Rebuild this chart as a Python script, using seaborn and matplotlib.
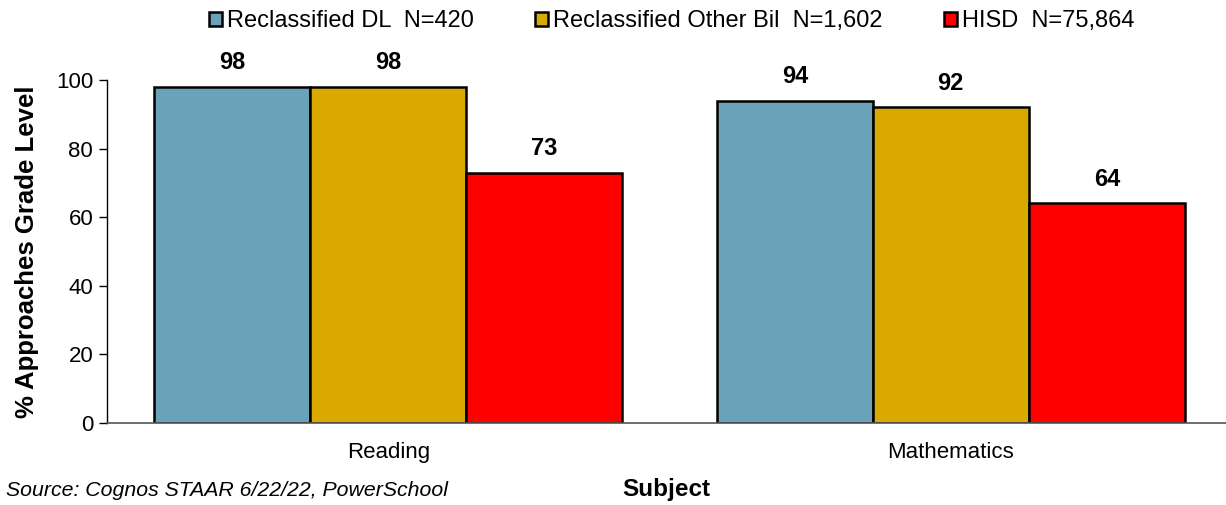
import matplotlib
matplotlib.use("Agg")
import matplotlib.pyplot as plt
import seaborn as sns
import pandas as pd

subjects = ["Reading", "Mathematics"]
groups = ["Reclassified DL  N=420", "Reclassified Other Bil  N=1,602", "HISD  N=75,864"]
values_dl = [98, 94]
values_other = [98, 92]
values_hisd = [73, 64]
colors = ["#6AA3B9", "#DAA900", "#FF0000"]

rows = []
for g, vals in zip(groups, [values_dl, values_other, values_hisd]):
    for s, v in zip(subjects, vals):
        rows.append({"Subject": s, "Group": g, "Value": v})
df = pd.DataFrame(rows)

sns.set_style("white")
plt.rcParams['font.family'] = ['Liberation Sans', 'DejaVu Sans']
plt.rcParams['text.color'] = 'black'
plt.rcParams['axes.labelcolor'] = 'black'
plt.rcParams['xtick.color'] = 'black'
plt.rcParams['ytick.color'] = 'black'

fig = plt.figure(figsize=(12.26, 5.05), dpi=100)
ax = fig.add_axes([0.0873, 0.1624, 0.9176, 0.6792])
sns.barplot(data=df, x="Subject", y="Value", hue="Group", order=subjects,
            hue_order=groups, palette=colors, width=0.832, gap=0, saturation=1,
            edgecolor="black", linewidth=1.8, ax=ax, legend=True)

for cont in ax.containers:
    ax.bar_label(cont, fmt="%d", padding=9, fontsize=17, fontweight="bold")

ax.set_xlim(-0.5, 1.5)
ax.set_ylim(0, 100)
ax.set_yticks([0, 20, 40, 60, 80, 100])
ax.tick_params(axis="y", labelsize=16, length=6, width=1, direction="out", left=True, pad=4)
ax.tick_params(axis="x", labelsize=16, length=0, pad=14)
for side in ["top", "right"]:
    ax.spines[side].set_visible(False)
ax.spines["left"].set_color("black")
ax.spines["left"].set_linewidth(1)
ax.spines["bottom"].set_color("#555555")
ax.spines["bottom"].set_linewidth(1.2)
ax.set_ylabel("% Approaches Grade Level", fontsize=18.5, fontweight="bold", labelpad=12)
ax.set_xlabel("Subject", fontsize=17.5, fontweight="bold")
ax.xaxis.set_label_coords((666 - 107) / 1125, -0.16)

handles, labels = ax.get_legend_handles_labels()
ax.legend(handles, labels, loc="center", bbox_to_anchor=(0.502, 1.172), ncol=3,
          frameon=False, fontsize=17, handlelength=0.55, handleheight=0.55,
          handletextpad=0.2, columnspacing=2.6)

fig.text(0.005, 0.028, "Source: Cognos STAAR 6/22/22, PowerSchool", fontsize=15.3,
         style="italic", va="center")

fig.savefig("out.png", dpi=100)
